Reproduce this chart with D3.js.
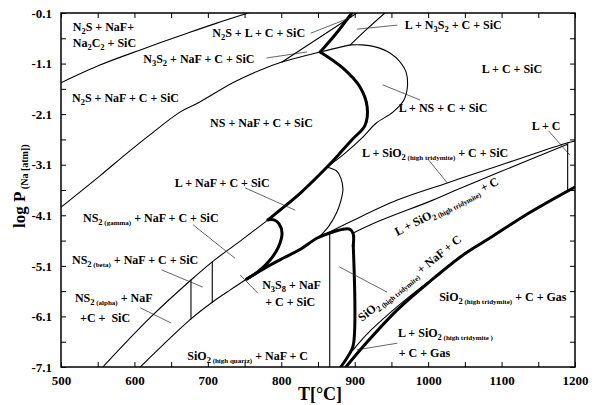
<!DOCTYPE html>
<html>
<head>
<meta charset="utf-8">
<script src="https://cdn.jsdelivr.net/npm/d3@7"></script>
<style>
  body { margin: 0; background: #fff; }
  text { white-space: pre; }
</style>
</head>
<body>
<svg id="chart" width="597" height="405"></svg>
<script>
// Axis ticks
const tempTicks = [500, 600, 700, 800, 900, 1000, 1100, 1200];
const tempMinorTicks = [550, 650, 750, 850, 950, 1050, 1150];
const pressureTicks = [-0.1, -1.1, -2.1, -3.1, -4.1, -5.1, -6.1, -7.1];
const pressureMinorTicks = [-0.6, -1.6, -2.6, -3.6, -4.6, -5.6, -6.6];

// Phase boundaries, [T in °C, log P(Na) in atm]
const na2c2Boundary = [[500,-1.48],[553,-1.13],[608,-0.83],[672,-0.50],[712,-0.30],[755,-0.10]];
const n2sBoundary = [[500,-3.94],[553,-3.32],[590,-2.87],[621,-2.51],[662,-2.06],[689,-1.86],[734,-1.48],[771,-1.23],[801,-1.07],[853,-0.87],[894,-0.73]];
const n3s2Branch = [[801,-1.07],[903,-0.10]];
const liquidusTop = [[853,-0.87],[875,-0.50],[896,-0.10]];
const lN3S2Boundary = [[894,-0.73],[918,-0.40],[941,-0.10]];
const nsLiquidBoundary = [[894,-0.73],[910,-0.73],[928,-0.77],[948,-0.89],[962,-1.07],[970,-1.27],[972,-1.52],[967,-1.82],[952,-2.06],[929,-2.28],[910,-2.57],[887,-2.87],[862,-3.15]];
const liquidusMain = [[853,-0.87],[884,-1.19],[907,-1.56],[917,-1.96],[914,-2.32],[896,-2.61],[880,-2.87],[862,-3.15],[826,-3.66],[798,-4.00],[782,-4.19]];
const liquidusHook = [[782,-4.19],[790,-4.19],[797,-4.27],[801,-4.45],[796,-4.73],[785,-4.98],[768,-5.22],[753,-5.36]];
const solidusBase = [[753,-5.36],[778,-5.14],[805,-4.93],[826,-4.77],[849,-4.55],[870,-4.43],[887,-4.37],[894,-4.38],[898,-4.47],[898,-4.70]];
const tridymiteEdge = [[898,-4.70],[898,-6.67],[892,-6.86],[881,-7.10]];
const ns2GammaBoundary = [[557,-7.10],[621,-6.13],[677,-5.38],[706,-5.02],[744,-4.61],[782,-4.19]];
const ns2AlphaBoundary = [[608,-7.10],[677,-6.15],[706,-5.82],[730,-5.58],[753,-5.36]];
const ns2AlphaBeta = [[677,-5.38],[677,-6.15]];
const ns2BetaGamma = [[706,-5.02],[706,-5.82]];
const naFBulge = [[862,-3.15],[875,-3.22],[881,-3.36],[884,-3.58],[881,-3.82],[875,-4.06],[864,-4.33],[850,-4.55]];
const tridymiteUpper = [[850,-4.55],[894,-4.23],[958,-3.80],[1026,-3.46],[1098,-3.11],[1189,-2.67],[1200,-2.63]];
const tridymiteLower = [[898,-4.45],[934,-4.21],[1003,-3.82],[1035,-3.62],[1098,-3.24],[1189,-2.70]];
const quartzTridymite = [[866,-4.44],[866,-7.10]];
const gasBoundary = [[888,-7.10],[913,-6.67],[958,-5.97],[1003,-5.40],[1049,-4.87],[1084,-4.55],[1139,-4.04],[1200,-3.54]];
const gasLiquidBoundary = [[898,-6.76],[918,-6.43],[948,-6.03],[982,-5.62],[1016,-5.26]];
const carbonEdge = [[1190,-2.68],[1190,-3.61]];

// Phase field labels: text (_{} subscript, ~{} small subscript), anchor T, log P, rotation
const fieldLabels = [
  ["N_{2}S + NaF+", 516, -0.46, 0],
  ["Na_{2}C_{2} + SiC", 516, -0.77, 0],
  ["N_{2}S + L + C + SiC", 706, -0.58, 0],
  ["N_{3}S_{2} + NaF + C + SiC", 612, -1.09, 0],
  ["L + N_{3}S_{2} + C + SiC", 968, -0.42, 0],
  ["L + C + SiC", 1073, -1.29, 0],
  ["N_{2}S + NaF + C + SiC", 515, -1.86, 0],
  ["NS + NaF + C + SiC", 703, -2.35, 0],
  ["L + NS + C + SiC", 960, -2.06, 0],
  ["L + SiO_{2}~{ (high tridymite)} + C + SiC", 910, -2.95, 0],
  ["L + C", 1141, -2.41, 0],
  ["L + NaF + C + SiC", 655, -3.54, 0],
  ["NS_{2}~{ (gamma)} + NaF + C + SiC", 530, -4.23, 0],
  ["NS_{2}~{ (beta)} + NaF + C + SiC", 515, -5.06, 0],
  ["NS_{2}~{ (alpha)} + NaF", 519, -5.82, 0],
  ["+C +  SiC", 526, -6.21, 0],
  ["N_{3}S_{8} + NaF", 774, -5.56, 0],
  ["+ C + SiC", 778, -5.89, 0],
  ["SiO_{2}~{ (high quartz)} + NaF + C", 672, -6.96, 0],
  ["SiO_{2}~{ (high tridymite)} + C + Gas", 1015, -5.80, 0],
  ["L + SiO_{2}~{ (high tridymite )}", 959, -6.51, 0],
  ["+ C + Gas", 960, -6.90, 0],
  ["SiO_{2}~{ (high tridymite)} + NaF + C", 910, -6.21, -39],
  ["L + SiO_{2}~{ (high tridymite)} + C", 958, -4.51, -27]
];

// Leader lines from labels to their fields
const leaders = [
  [[840,-0.50],[896,-0.18]],
  [[780,-0.99],[835,-0.87]],
  [[958,-0.34],[903,-0.42]],
  [[938,-1.52],[989,-1.82]],
  [[1001,-3.01],[1026,-3.46]],
  [[1164,-2.43],[1193,-2.91]],
  [[751,-3.56],[819,-4.00]],
  [[680,-4.29],[737,-4.95]],
  [[637,-5.18],[693,-5.52]],
  [[608,-5.93],[650,-6.23]],
  [[744,-5.28],[768,-5.64]],
  [[879,-5.12],[944,-5.62]],
  [[903,-6.76],[958,-6.63]]
];

const font = "'Liberation Serif','Times New Roman',Times,serif";
const svg = d3.select("#chart");
const W = 597, H = 405;
const plot = { left: 61, right: 575, top: 13, bottom: 367 };

const x = d3.scaleLinear().domain([500, 1200]).range([plot.left, plot.right]);
const y = d3.scaleLinear().domain([-7.1, -0.1]).range([plot.bottom, plot.top]);

svg.append("rect").attr("width", W).attr("height", H).attr("fill", "#fff");

svg.append("defs").append("clipPath").attr("id", "plotClip")
  .append("rect")
  .attr("x", plot.left).attr("y", plot.top)
  .attr("width", plot.right - plot.left).attr("height", plot.bottom - plot.top);

const body = svg.append("g").attr("clip-path", "url(#plotClip)");

const smooth = d3.line().x(d => x(d[0])).y(d => y(d[1])).curve(d3.curveCatmullRom.alpha(0.5));
const straight = d3.line().x(d => x(d[0])).y(d => y(d[1]));

function boundary(data, width, gen) {
  body.append("path")
    .attr("d", (gen || smooth)(data))
    .attr("fill", "none")
    .attr("stroke", "#000")
    .attr("stroke-width", width)
    .attr("stroke-linejoin", "round")
    .attr("stroke-linecap", "round");
}

const thin = 1.1, thick = 3;
boundary(na2c2Boundary, thin);
boundary(n2sBoundary, thin);
boundary(n3s2Branch, thin, straight);
boundary(lN3S2Boundary, thin);
boundary(nsLiquidBoundary, thin);
boundary(ns2GammaBoundary, thin);
boundary(ns2AlphaBoundary, thin);
boundary(ns2AlphaBeta, thin, straight);
boundary(ns2BetaGamma, thin, straight);
boundary(naFBulge, thin);
boundary(tridymiteUpper, thin);
boundary(tridymiteLower, thin);
boundary(quartzTridymite, thin, straight);
boundary(gasLiquidBoundary, thin);
boundary(carbonEdge, thin, straight);
boundary(liquidusTop, thick);
boundary(liquidusMain, thick);
boundary(liquidusHook, thick);
boundary(solidusBase, thick);
boundary(tridymiteEdge, thick);
boundary(gasBoundary, thick);

// Leaders
leaders.forEach(l => {
  body.append("path").attr("d", straight(l))
    .attr("fill", "none").attr("stroke", "#222").attr("stroke-width", 0.7);
});

// Labels with subscripts
function label(str, tx, py, rot) {
  const px = x(tx), pyy = y(py);
  const t = svg.append("text")
    .attr("x", px).attr("y", pyy)
    .attr("font-family", font).attr("font-weight", "bold").attr("font-size", 12)
    .attr("fill", "#000");
  if (rot) t.attr("transform", `rotate(${rot},${px},${pyy})`);
  const re = /(_\{[^}]*\}|~\{[^}]*\}|[^_~]+)/g;
  let m, low = false;
  while ((m = re.exec(str))) {
    const s = m[0];
    if (s.startsWith("_{") || s.startsWith("~{")) {
      t.append("tspan")
        .attr("font-size", s[0] === "_" ? 8.5 : 7)
        .attr("dy", low ? 0 : 3)
        .text(s.slice(2, -1));
      low = true;
    } else {
      t.append("tspan").attr("dy", low ? -3 : 0).text(s);
      low = false;
    }
  }
}
fieldLabels.forEach(d => label(d[0], d[1], d[2], d[3]));

// Axes with inward ticks
function styleAxis(g) {
  g.select(".domain").remove();
  g.selectAll(".tick line").attr("stroke", "#000").attr("stroke-width", 1);
  g.selectAll(".tick text").attr("font-family", font).attr("font-weight", "bold")
    .attr("font-size", 13).attr("fill", "#000");
}
svg.append("g").attr("transform", `translate(0,${plot.bottom})`)
  .call(d3.axisBottom(x).tickValues(tempTicks).tickSize(-5).tickPadding(9).tickFormat(d3.format("d")))
  .call(styleAxis);
svg.append("g").attr("transform", `translate(0,${plot.bottom})`)
  .call(d3.axisBottom(x).tickValues(tempMinorTicks).tickSize(-5).tickFormat(""))
  .call(styleAxis);
svg.append("g").attr("transform", `translate(0,${plot.top})`)
  .call(d3.axisTop(x).tickValues(tempTicks.concat(tempMinorTicks)).tickSize(-5).tickFormat(""))
  .call(styleAxis);
svg.append("g").attr("transform", `translate(${plot.left},0)`)
  .call(d3.axisLeft(y).tickValues(pressureTicks).tickSize(-5).tickPadding(9).tickFormat(d => d.toFixed(1)))
  .call(styleAxis);
svg.append("g").attr("transform", `translate(${plot.left},0)`)
  .call(d3.axisLeft(y).tickValues(pressureMinorTicks).tickSize(-5).tickFormat(""))
  .call(styleAxis);
svg.append("g").attr("transform", `translate(${plot.right},0)`)
  .call(d3.axisRight(y).tickValues(pressureTicks.concat(pressureMinorTicks)).tickSize(-5).tickFormat(""))
  .call(styleAxis);

svg.append("rect")
  .attr("x", plot.left).attr("y", plot.top)
  .attr("width", plot.right - plot.left).attr("height", plot.bottom - plot.top)
  .attr("fill", "none").attr("stroke", "#000").attr("stroke-width", 1.5);

// Axis titles
svg.append("text")
  .attr("x", 320).attr("y", 400).attr("text-anchor", "middle")
  .attr("font-family", font).attr("font-weight", "bold").attr("font-size", 18)
  .text("T[°C]");

const yTitle = svg.append("text")
  .attr("transform", "translate(25,228) rotate(-90)")
  .attr("font-family", font).attr("font-weight", "bold").attr("font-size", 17);
yTitle.append("tspan").text("log P");
yTitle.append("tspan").attr("font-size", 10).attr("dy", 3).text(" (Na [atm])");
</script>
</body>
</html>
